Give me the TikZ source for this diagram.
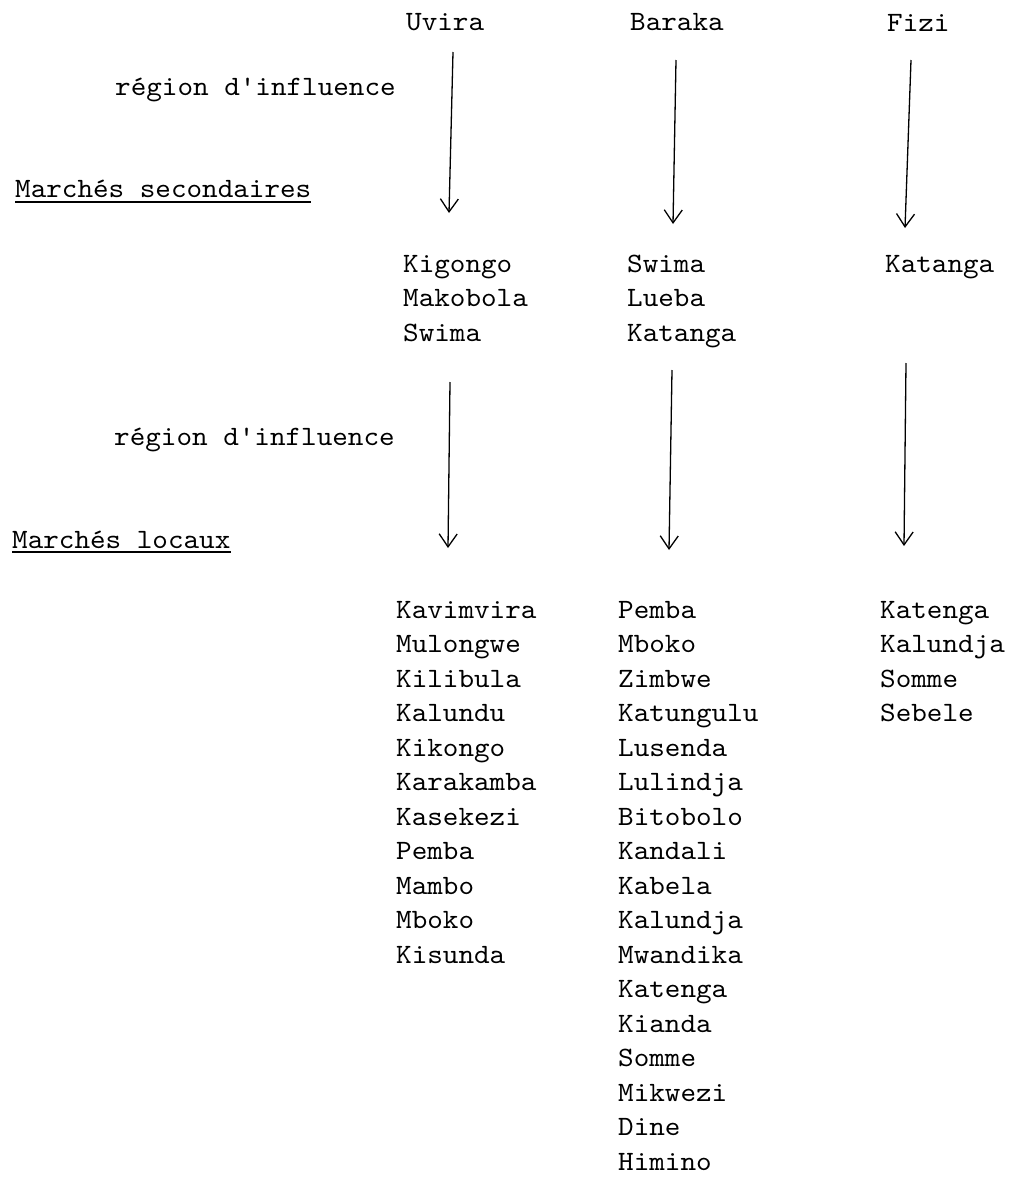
\documentclass[tikz,border=0pt]{standalone}
\usepackage{fontspec}
\newfontfamily\tw{lmmono10-regular.otf}[FakeStretch=1.06]
\usetikzlibrary{arrows.meta}
\tikzset{
  txt/.style={font=\tw\fontsize{28}{34.5}\selectfont, inner sep=0pt, anchor=base west},
  arr/.style={line width=1.3pt, -{Straight Barb[length=13pt,width=18pt]}},
  ul/.style={line width=1.3pt}
}
\begin{document}
\begin{tikzpicture}[x=1pt,y=-1pt]
\useasboundingbox (0,0) rectangle (1013,1183);
% top level
\node[txt] (uvira)  at (406,30) {Uvira};
\node[txt] (baraka) at (630,30) {Baraka};
\node[txt] (fizi)   at (887,31) {Fizi};
% labels
\node[txt] (reg1) at (115,95) {région d'influence};
\node[txt] (msec) at (15,197) {Marchés secondaires};
\draw[ul] ([yshift=-5pt]msec.base west) -- ([yshift=-5pt]msec.base east);
\node[txt] (reg2) at (114,445) {région d'influence};
\node[txt] (mloc) at (12,548) {Marchés locaux};
\draw[ul] ([yshift=-4pt]mloc.base west) -- ([yshift=-4pt]mloc.base east);
% secondary markets
\foreach \t [count=\i] in {Kigongo,Makobola,Swima}
  \node[txt] (s1\i) at (403,{272+34.5*(\i-1)}) {\t};
\foreach \t [count=\i] in {Swima,Lueba,Katanga}
  \node[txt] (s2\i) at (627,{272+34.5*(\i-1)}) {\t};
\node[txt] (s31) at (885,272) {Katanga};
% local markets
\foreach \t [count=\i] in {Kavimvira,Mulongwe,Kilibula,Kalundu,Kikongo,Karakamba,Kasekezi,Pemba,Mambo,Mboko,Kisunda}
  \node[txt] (l1\i) at (396,{618+34.5*(\i-1)}) {\t};
\foreach \t [count=\i] in {Pemba,Mboko,Zimbwe,Katungulu,Lusenda,Lulindja,Bitobolo,Kandali,Kabela,Kalundja,Mwandika,Katenga,Kianda,Somme,Mikwezi,Dine,Himino}
  \node[txt] (l2\i) at (618,{618+34.5*(\i-1)}) {\t};
\foreach \t [count=\i] in {Katenga,Kalundja,Somme,Sebele}
  \node[txt] (l3\i) at (880,{618+34.5*(\i-1)}) {\t};
% arrow end points
\coordinate (a1s) at (453,52);  \coordinate (a1e) at (449,213);
\coordinate (a2s) at (676,60);  \coordinate (a2e) at (673,224);
\coordinate (a3s) at (911,60);  \coordinate (a3e) at (905,228);
\coordinate (a4s) at (450,382); \coordinate (a4e) at (448,548);
\coordinate (a5s) at (672,370); \coordinate (a5e) at (669,550);
\coordinate (a6s) at (906,363); \coordinate (a6e) at (904,546);
\draw[arr] (a1s) -- (a1e);
\draw[arr] (a2s) -- (a2e);
\draw[arr] (a3s) -- (a3e);
\draw[arr] (a4s) -- (a4e);
\draw[arr] (a5s) -- (a5e);
\draw[arr] (a6s) -- (a6e);
\end{tikzpicture}
\end{document}
